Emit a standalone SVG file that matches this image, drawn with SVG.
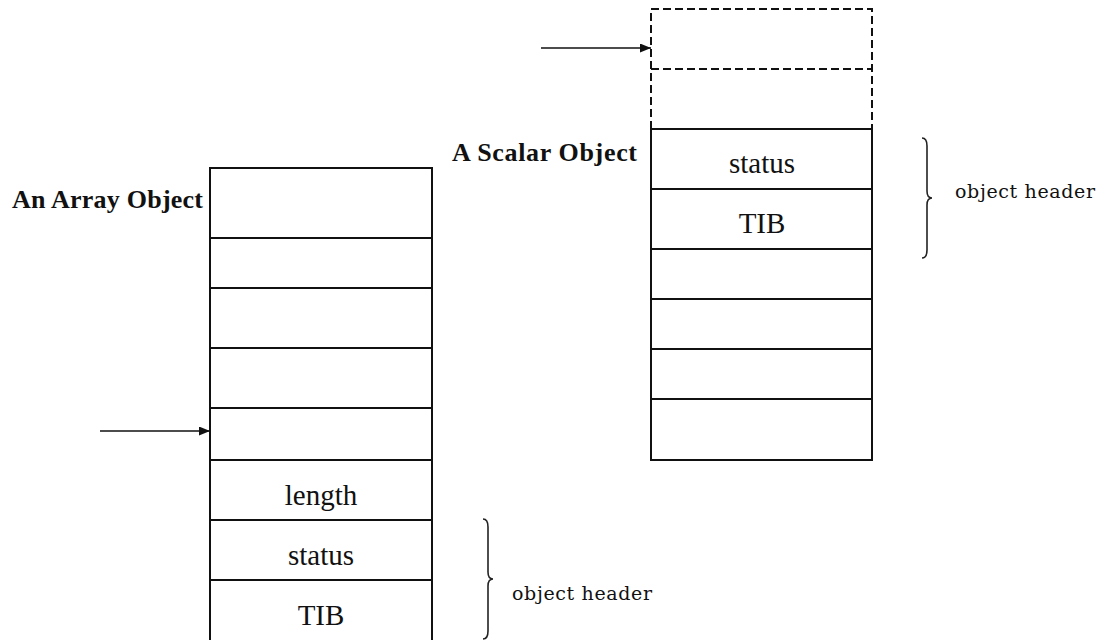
<svg xmlns="http://www.w3.org/2000/svg" width="1101" height="640" viewBox="0 0 1101 640">
  <style>
    .cell { fill: #ffffff; stroke: #111111; stroke-width: 2; }
    .rule { stroke: #111111; stroke-width: 2; fill: none; }
    .dash { stroke: #111111; stroke-width: 2; fill: none; stroke-dasharray: 8 4; }
    .brace { stroke: #222222; stroke-width: 1.6; fill: none; }
    .arrow { stroke: #111111; stroke-width: 1.6; fill: none; }
    .field { font-family: "Liberation Serif", "Times New Roman", serif; font-size: 29px; fill: #111111; text-anchor: middle; }
    .title { font-family: "Liberation Serif", "Times New Roman", serif; font-size: 26px; font-weight: bold; fill: #111111; }
    .note { font-family: "DejaVu Serif", "Liberation Serif", serif; font-size: 19px; fill: #111111; }
  </style>
  <defs>
    <marker id="head" viewBox="0 0 11 9" refX="11" refY="4.5" markerWidth="11" markerHeight="9" markerUnits="userSpaceOnUse" orient="auto">
      <path d="M0,0 L11,4.5 L0,9 Z" fill="#111111"/>
    </marker>
  </defs>

  <!-- array object: eight stacked words, header at the bottom -->
  <g id="array-object">
    <text class="title" x="12" y="208" textLength="191">An Array Object</text>
    <rect class="cell" x="210" y="168" width="222" height="474"/>
    <path class="rule" d="M210 238H432 M210 288H432 M210 348H432 M210 408H432 M210 460H432 M210 520H432 M210 580H432"/>
    <text class="field" x="321" y="505">length</text>
    <text class="field" x="321" y="565">status</text>
    <text class="field" x="321" y="625">TIB</text>
  </g>

  <!-- scalar object: two spare slots above, header then fields -->
  <g id="scalar-object">
    <text class="title" x="452" y="161" textLength="185">A Scalar Object</text>
    <path class="dash" d="M651 129V9H872V129 M651 69H872"/>
    <rect class="cell" x="651" y="129" width="221" height="331"/>
    <path class="rule" d="M651 189H872 M651 249H872 M651 299H872 M651 349H872 M651 399H872"/>
    <text class="field" x="762" y="173">status</text>
    <text class="field" x="762" y="233">TIB</text>
  </g>

  <!-- header annotations -->
  <g id="array-header-note">
    <path class="brace" d="M483 519 Q488 519 488 527 L488 572 Q488 579 493 579 Q488 579 488 586 L488 631 Q488 639 483 639"/>
    <text class="note" x="512" y="600" textLength="140">object header</text>
  </g>
  <g id="scalar-header-note">
    <path class="brace" d="M922 138 Q927 138 927 146 L927 191 Q927 198 932 198 Q927 198 927 205 L927 250 Q927 258 922 258"/>
    <text class="note" x="955" y="198" textLength="140">object header</text>
  </g>

  <!-- reference pointers -->
  <g id="connectors">
    <line class="arrow" x1="100" y1="431" x2="210" y2="431" marker-end="url(#head)"/>
    <line class="arrow" x1="541" y1="48" x2="651" y2="48" marker-end="url(#head)"/>
  </g>
</svg>
